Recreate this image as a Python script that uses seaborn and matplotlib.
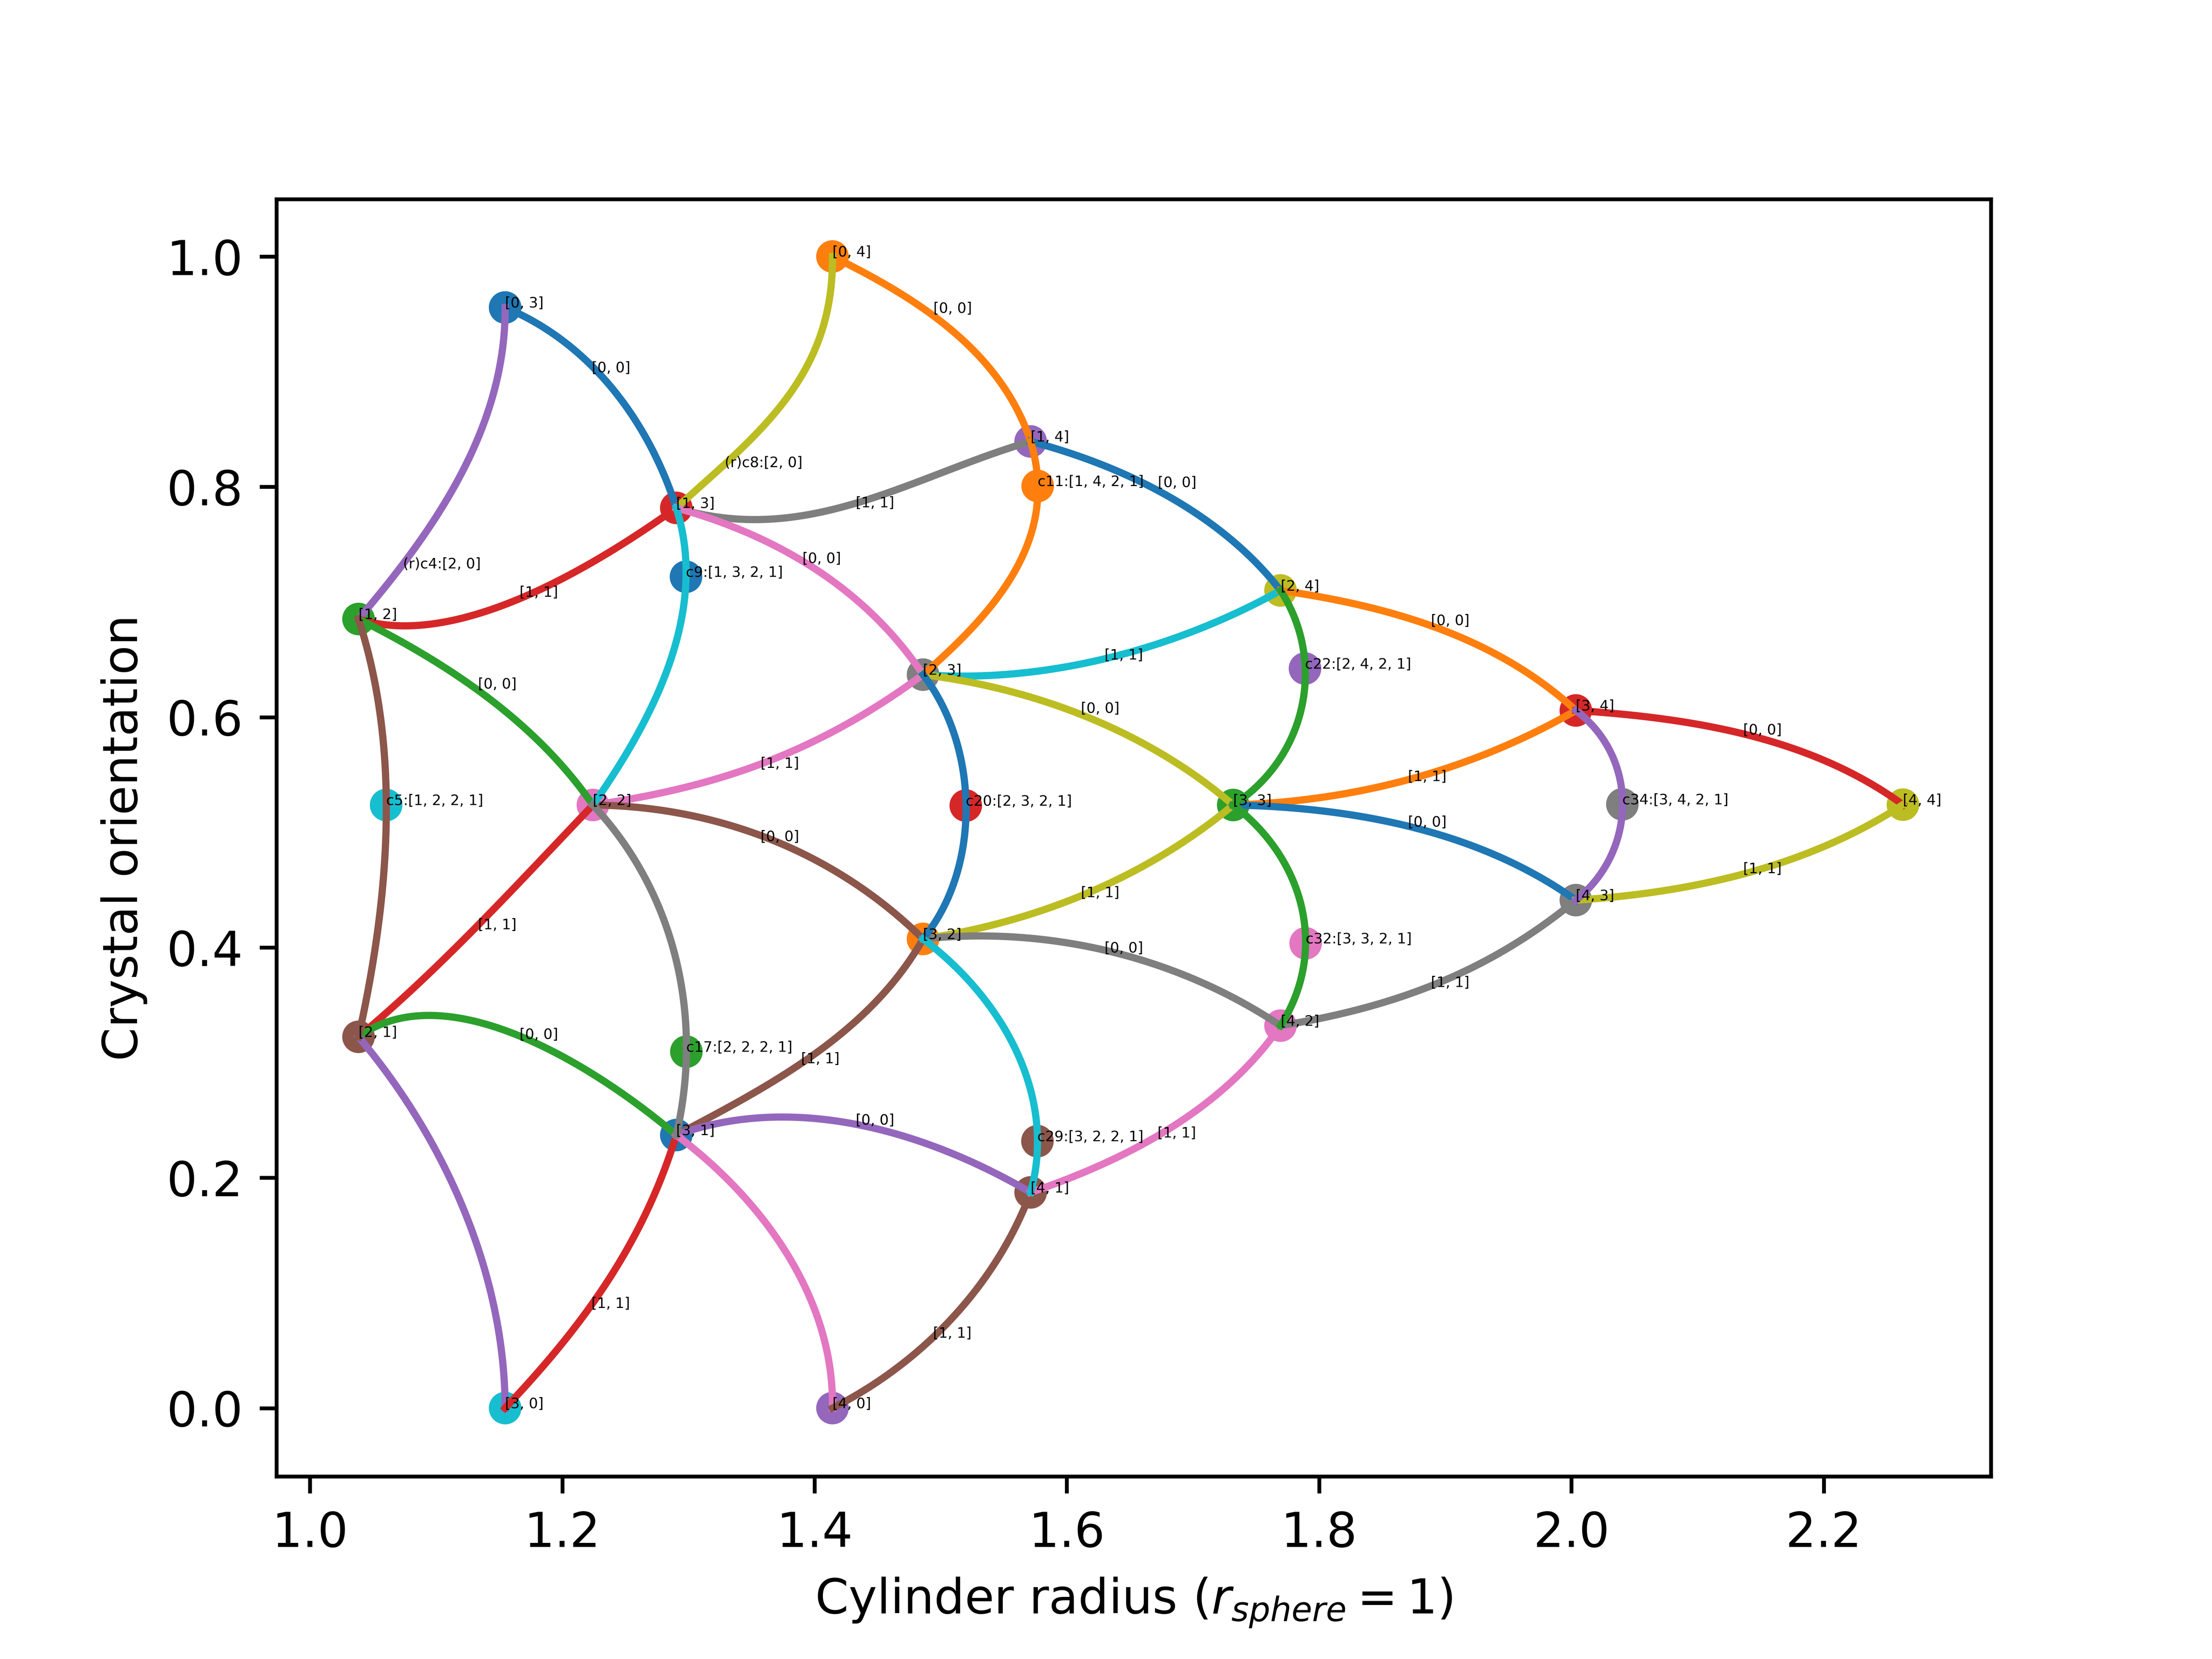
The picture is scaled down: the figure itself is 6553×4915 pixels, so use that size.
import numpy as np
import matplotlib
matplotlib.use("Agg")
import matplotlib.pyplot as plt
import seaborn as sns

# ---------------- data ----------------
node_names = ["[0, 3]", "[0, 4]", "[1, 2]", "[1, 3]", "[1, 4]", "[2, 1]", "[2, 2]",
              "[2, 3]", "[2, 4]", "[3, 0]", "[3, 1]", "[3, 2]", "[3, 3]", "[3, 4]",
              "[4, 0]", "[4, 1]", "[4, 2]", "[4, 3]", "[4, 4]"]
node_x = [1.1547, 1.4142, 1.0385, 1.2904, 1.5713, 1.0385, 1.2243, 1.4860, 1.7694, 1.1547,
          1.2904, 1.4860, 1.7319, 2.0035, 1.4142, 1.5713, 1.7694, 2.0035, 2.2628]
node_y = [0.9557, 1.0000, 0.6852, 0.7817, 0.8394, 0.3224, 0.5237, 0.6369, 0.7100, 0.0000,
          0.2371, 0.4074, 0.5237, 0.6058, 0.0000, 0.1873, 0.3321, 0.4411, 0.5240]

center_names = ["c5:[1, 2, 2, 1]", "c9:[1, 3, 2, 1]", "c11:[1, 4, 2, 1]", "c17:[2, 2, 2, 1]",
                "c20:[2, 3, 2, 1]", "c22:[2, 4, 2, 1]", "c29:[3, 2, 2, 1]", "c32:[3, 3, 2, 1]",
                "c34:[3, 4, 2, 1]"]
center_x = [1.0604, 1.2981, 1.5769, 1.2984, 1.5199, 1.7888, 1.5767, 1.7893, 2.0404]
center_y = [0.5237, 0.7219, 0.8007, 0.3095, 0.5232, 0.6422, 0.2318, 0.4036, 0.5243]

edge_from = ["[0, 3]", "[0, 3]", "[0, 4]", "[0, 4]", "[1, 2]", "[1, 3]", "[1, 3]", "[1, 4]",
             "[1, 2]", "[2, 2]", "[2, 3]", "[2, 3]", "[2, 4]", "[2, 2]", "[2, 1]", "[2, 1]",
             "[2, 1]", "[3, 0]", "[3, 1]", "[3, 1]", "[3, 1]", "[4, 0]", "[3, 2]", "[3, 2]",
             "[4, 1]", "[3, 3]", "[3, 3]", "[3, 4]", "[4, 3]", "[4, 2]",
             "[1, 2]", "[1, 3]", "[1, 4]", "[2, 2]", "[2, 3]", "[2, 4]", "[3, 2]", "[3, 3]", "[3, 4]"]
edge_to = ["[1, 3]", "[1, 2]", "[1, 4]", "[1, 3]", "[1, 3]", "[1, 4]", "[2, 3]", "[2, 4]",
           "[2, 2]", "[2, 3]", "[2, 4]", "[3, 3]", "[3, 4]", "[3, 2]", "[2, 2]", "[3, 1]",
           "[3, 0]", "[3, 1]", "[3, 2]", "[4, 1]", "[4, 0]", "[4, 1]", "[3, 3]", "[4, 2]",
           "[4, 2]", "[3, 4]", "[4, 3]", "[4, 4]", "[4, 4]", "[4, 3]",
           "[2, 1]", "[2, 2]", "[2, 3]", "[3, 1]", "[3, 2]", "[3, 3]", "[4, 1]", "[4, 2]", "[4, 3]"]
edge_center = [None] * 30 + list(range(9))

edge_via_x = [
    [1.1969, 1.2234, 1.2644, 1.2799],
    [1.1523, 1.1325, 1.0985, 1.0739],
    [1.4581, 1.5194, 1.5531],
    [1.4102, 1.3811, 1.3289],
    [1.0709, 1.1108, 1.1662, 1.2275],
    [1.3567, 1.4335, 1.4886, 1.5349],
    [1.3505, 1.3904, 1.4273, 1.4635],
    [1.6270, 1.6730, 1.7190, 1.7498],
    [1.0894, 1.1354, 1.1785, 1.2031],
    [1.3198, 1.3811, 1.4273, 1.4635],
    [1.5320, 1.5866, 1.6411, 1.6957, 1.7367],
    [1.5320, 1.5729, 1.6139, 1.6548, 1.6957],
    [1.8188, 1.8782, 1.9192, 1.9601],
    [1.2582, 1.3043, 1.3658, 1.4118, 1.4635],
    [1.1046, 1.1507, 1.1969],
    [1.0586, 1.0878, 1.1201, 1.1662, 1.2114, 1.2523],
    [1.0557, 1.1022, 1.1242, 1.1432, 1.1528],
    [1.1841, 1.2170, 1.2443, 1.2660, 1.2823],
    [1.3342, 1.3752, 1.4161, 1.4573],
    [1.3425, 1.3752, 1.4298, 1.4846, 1.5304],
    [1.3206, 1.3479, 1.3752, 1.3971, 1.4081],
    [1.4573, 1.4983, 1.5304, 1.5523],
    [1.5320, 1.5729, 1.6139, 1.6548, 1.6957],
    [1.5183, 1.5729, 1.6275, 1.6821, 1.7230],
    [1.6123, 1.6532, 1.6941, 1.7351],
    [1.7776, 1.8325, 1.8782, 1.9192, 1.9601],
    [1.7776, 1.8325, 1.8782, 1.9192, 1.9601],
    [2.0420, 2.0966, 2.1512, 2.2058],
    [2.0556, 2.1102, 2.1648, 2.2197],
    [1.8033, 1.8579, 1.9127, 1.9601],
    [1.0447, 1.0524, 1.0570, 1.0602, 1.0602, 1.0570, 1.0524, 1.0463],
    [1.2952, 1.2968, 1.2890, 1.2767, 1.2582, 1.2430],
    [1.5716, 1.5593, 1.5320, 1.5047],
    [1.2430, 1.2582, 1.2738, 1.2861, 1.2933, 1.2976, 1.2960],
    [1.4964, 1.5074, 1.5157, 1.5197, 1.5197, 1.5157, 1.5074, 1.4964],
    [1.7776, 1.7859, 1.7886, 1.7832, 1.7723, 1.7560],
    [1.5183, 1.5456, 1.5649, 1.5737, 1.5740],
    [1.7503, 1.7669, 1.7806, 1.7873, 1.7870, 1.7816, 1.7733],
    [2.0203, 2.0340, 2.0407, 2.0393, 2.0340, 2.0230],
]
edge_via_y = [
    [0.9288, 0.9062, 0.8455, 0.8127],
    [0.9188, 0.8406, 0.7699, 0.7345],
    [0.9742, 0.9261, 0.8807],
    [0.9566, 0.8807, 0.8203],
    [0.6776, 0.6840, 0.7043, 0.7356],
    [0.7723, 0.7849, 0.8077, 0.8265],
    [0.7573, 0.7371, 0.7066, 0.6688],
    [0.8203, 0.7951, 0.7647, 0.7345],
    [0.6547, 0.6219, 0.5818, 0.5539],
    [0.5463, 0.5689, 0.5944, 0.6219],
    [0.6348, 0.6421, 0.6542, 0.6720, 0.6917],
    [0.6287, 0.6169, 0.6005, 0.5809, 0.5539],
    [0.7005, 0.6826, 0.6676, 0.6407],
    [0.5223, 0.5135, 0.4933, 0.4707, 0.4276],
    [0.3875, 0.4402, 0.4909],
    [0.3368, 0.3406, 0.3368, 0.3241, 0.2975, 0.2705],
    [0.2995, 0.2198, 0.1630, 0.1032, 0.0434],
    [0.0372, 0.0791, 0.1240, 0.1688, 0.2137],
    [0.2632, 0.2884, 0.3212, 0.3631],
    [0.2512, 0.2526, 0.2465, 0.2315, 0.2110],
    [0.2107, 0.1779, 0.1389, 0.0941, 0.0583],
    [0.0281, 0.0671, 0.1043, 0.1442],
    [0.4179, 0.4285, 0.4464, 0.4672, 0.4941],
    [0.4100, 0.4074, 0.3986, 0.3807, 0.3611],
    [0.2040, 0.2251, 0.2521, 0.2878],
    [0.5273, 0.5360, 0.5481, 0.5615, 0.5824],
    [0.5211, 0.5152, 0.5012, 0.4897, 0.4704],
    [0.6026, 0.5944, 0.5809, 0.5601],
    [0.4464, 0.4569, 0.4733, 0.4971],
    [0.3403, 0.3538, 0.3775, 0.4074],
    [0.6624, 0.6272, 0.5944, 0.5563, 0.4807, 0.4428, 0.4050, 0.3620],
    [0.7597, 0.6917, 0.6624, 0.6246, 0.5818, 0.5539],
    [0.7547, 0.7245, 0.6887, 0.6556],
    [0.4982, 0.4730, 0.4428, 0.4100, 0.3722, 0.3423, 0.2734],
    [0.6199, 0.5958, 0.5689, 0.5451, 0.4971, 0.4704, 0.4464, 0.4256],
    [0.6946, 0.6738, 0.6169, 0.5929, 0.5689, 0.5481],
    [0.3746, 0.3388, 0.2998, 0.2644, 0.2011],
    [0.5062, 0.4821, 0.4554, 0.4285, 0.3807, 0.3596, 0.3417],
    [0.5870, 0.5630, 0.5422, 0.5032, 0.4853, 0.4642],
]

edge_label = ["[0, 0]", "(r)c4:[2, 0]", "[0, 0]", "(r)c8:[2, 0]", "[1, 1]", "[1, 1]", "[0, 0]",
              "[0, 0]", "[0, 0]", "[1, 1]", "[1, 1]", "[0, 0]", "[0, 0]", "[0, 0]", "[1, 1]",
              "[0, 0]", "", "[1, 1]", "[1, 1]", "[0, 0]", "", "[1, 1]", "[1, 1]", "[0, 0]",
              "[1, 1]", "[1, 1]", "[0, 0]", "[0, 0]", "[1, 1]", "[1, 1]"] + [""] * 9
edge_label_x = [1.2234, 1.0739, 1.4942, 1.3289, 1.1662, 1.4327, 1.3904, 1.6722, 1.1333, 1.3572,
                1.6299, 1.6112, 1.8887, 1.3572, 1.1333, 1.1662, None, 1.2232, 1.3893, 1.4327,
                None, 1.4940, 1.6112, 1.6299, 1.6719, 1.8705, 1.8705, 2.1362, 2.1362, 1.8887] + [None] * 9
edge_label_y = [0.9030, 0.7327, 0.9546, 0.8206, 0.7081, 0.7858, 0.7374, 0.8033, 0.6284, 0.5595,
                0.6536, 0.6073, 0.6835, 0.4959, 0.4194, 0.3241, None, 0.0906, 0.3031, 0.2497,
                None, 0.0648, 0.4472, 0.3992, 0.2386, 0.5481, 0.5085, 0.5885, 0.4681, 0.3693] + [None] * 9

# ---------------- styles ----------------
tab10 = sns.color_palette("tab10")
edge_color_idx = [0, 4, 1, 8, 3, 7, 6, 0, 2, 6, 9, 8, 1, 5, 3, 2, 4, 3, 5, 4, 6, 5, 8, 7,
                  6, 1, 0, 3, 8, 7, 5, 9, 1, 7, 0, 2, 9, 2, 4]

fig = plt.figure(figsize=(6.4, 4.8), dpi=1024)
ax = fig.add_subplot(111)
ax.set_xlim(0.9735, 2.3326)
ax.set_ylim(-0.0594, 1.0499)

# points (nodes then centres) colour-cycled
pt_names = node_names + center_names
pt_x = node_x + center_x
pt_y = node_y + center_y
pal = {n: tab10[i % 10] for i, n in enumerate(pt_names)}
sns.scatterplot(x=pt_x, y=pt_y, hue=pt_names, palette=pal, s=46, linewidth=0,
                legend=False, ax=ax, zorder=1)


def bern(t):
    t = np.asarray(t)[:, None]
    return np.hstack([(1 - t) ** 3, 3 * (1 - t) ** 2 * t, 3 * (1 - t) * t ** 2, t ** 3])


def fit_bezier(P0, P3, Q, w):
    """Least-squares cubic Bezier with fixed end points through samples Q."""
    seg = np.hypot(*np.diff(np.vstack([P0, Q, P3]), axis=0).T)
    t = np.cumsum(seg)[:-1] / seg.sum()
    dense = np.linspace(0, 1, 1500)
    for _ in range(12):
        B = bern(t)
        rhs = Q - np.outer(B[:, 0], P0) - np.outer(B[:, 3], P3)
        A = B[:, 1:3] * w[:, None]
        sol, *_ = np.linalg.lstsq(A, rhs * w[:, None], rcond=None)
        ctrl = np.vstack([P0, sol, P3])
        curve = bern(dense) @ ctrl
        d = ((curve[None, :, :] - Q[:, None, :]) ** 2).sum(-1)
        t = dense[d.argmin(axis=1)]
        t = np.clip(t, 1e-3, 1 - 1e-3)
    return bern(np.linspace(0, 1, 400)) @ ctrl


idx = {n: i for i, n in enumerate(node_names)}
for e in range(len(edge_from)):
    ia, ib = idx[edge_from[e]], idx[edge_to[e]]
    vias = list(zip(edge_via_x[e], edge_via_y[e]))
    weights = [1.0] * len(vias)
    c = edge_center[e]
    if c is not None:
        vias.append((center_x[c], center_y[c]))
        weights.append(4.0)
        order = np.argsort([-p[1] for p in vias])
        vias = [vias[k] for k in order]
        weights = [weights[k] for k in order]
    P0 = ax.transData.transform([(node_x[ia], node_y[ia])])[0]
    P3 = ax.transData.transform([(node_x[ib], node_y[ib])])[0]
    Q = ax.transData.transform(np.array(vias))
    curve = fit_bezier(P0, P3, Q, np.array(weights))
    data_curve = ax.transData.inverted().transform(curve)
    sns.lineplot(x=data_curve[:, 0], y=data_curve[:, 1], sort=False, estimator=None,
                 color=tab10[edge_color_idx[e]], linewidth=1.5, ax=ax)
    if edge_label[e]:
        ax.text(edge_label_x[e], edge_label_y[e], edge_label[e], fontsize=3,
                ha="left", va="center", zorder=5)

for n, x, y in zip(pt_names, pt_x, pt_y):
    ax.text(x, y, n, fontsize=3, ha="left", va="baseline", zorder=5)

ax.set_xlim(0.9735, 2.3326)
ax.set_ylim(-0.0594, 1.0499)
ax.set_xlabel("Cylinder radius ($r_{sphere}=1$)")
ax.set_ylabel("Crystal orientation")

fig.savefig("out.png", dpi=1024)
